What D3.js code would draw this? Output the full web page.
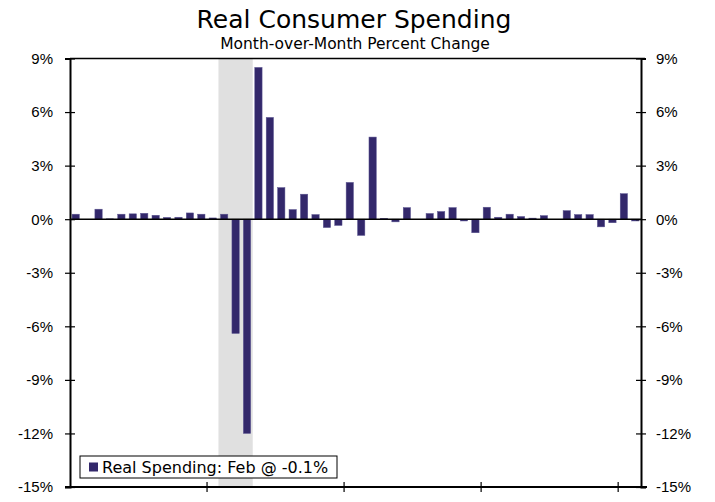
<!DOCTYPE html>
<html>
<head>
<meta charset="utf-8">
<script src="https://cdn.jsdelivr.net/npm/d3@7"></script>
<style>
  body { margin: 0; background: #fff; }
  svg { display: block; font-family: "DejaVu Sans", Verdana, sans-serif; }
  .axis path { stroke: #000; stroke-width: 2; }
  .axis line { stroke: #000; stroke-width: 1.2; }
  .axis text { font-size: 15px; fill: #000; }
</style>
</head>
<body>
<svg id="chart" width="715" height="502"></svg>
<script>
// months shown, Jan 2019 through Feb 2023
var months = [
  "2019-01","2019-02","2019-03","2019-04","2019-05","2019-06","2019-07","2019-08","2019-09","2019-10","2019-11","2019-12",
  "2020-01","2020-02","2020-03","2020-04","2020-05","2020-06","2020-07","2020-08","2020-09","2020-10","2020-11","2020-12",
  "2021-01","2021-02","2021-03","2021-04","2021-05","2021-06","2021-07","2021-08","2021-09","2021-10","2021-11","2021-12",
  "2022-01","2022-02","2022-03","2022-04","2022-05","2022-06","2022-07","2022-08","2022-09","2022-10","2022-11","2022-12",
  "2023-01","2023-02"
];

// real spending, month-over-month % change
var spending = [
  0.28, 0.00, 0.56, 0.02, 0.28, 0.30, 0.33, 0.22, 0.10, 0.11, 0.35, 0.28,
  0.07, 0.28, -6.4, -12.0, 8.5, 5.7, 1.77, 0.54, 1.40, 0.26, -0.47, -0.35,
  2.06, -0.91, 4.6, 0.05, -0.15, 0.65, 0.00, 0.32, 0.43, 0.65, -0.10, -0.76,
  0.67, 0.11, 0.28, 0.15, 0.06, 0.20, 0.00, 0.48, 0.26, 0.26, -0.43, -0.20,
  1.43, -0.10
];

// recession shading, first and last month
var recession = ["2020-02", "2020-04"];

var yTicks = [-15, -12, -9, -6, -3, 0, 3, 6, 9];
var yearStarts = ["2020-01", "2021-01", "2022-01", "2023-01"];

var margin = {top: 58.5, right: 74, bottom: 15, left: 70};
var width = 715, height = 502;

var svg = d3.select("#chart");

var x = d3.scaleBand()
    .domain(months)
    .range([margin.left, width - margin.right])
    .padding(0);

var y = d3.scaleLinear()
    .domain([-15, 9])
    .range([height - margin.bottom, margin.top]);

var barW = x.bandwidth() * 0.64;

// recession band
svg.append("rect")
    .attr("x", x(recession[0]))
    .attr("y", y(9))
    .attr("width", x(recession[1]) + x.bandwidth() - x(recession[0]))
    .attr("height", y(-15) - y(9))
    .attr("fill", "#e0e0e0");

// bars
svg.append("g")
  .selectAll("rect")
  .data(spending)
  .enter()
  .append("rect")
    .attr("x", function(d, i) { return x(months[i]) + (x.bandwidth() - barW) / 2; })
    .attr("y", function(d) { return y(Math.max(0, d)); })
    .attr("width", barW)
    .attr("height", function(d) { return Math.abs(y(d) - y(0)); })
    .attr("fill", "#33286b")
    .attr("stroke", "#5d5792")
    .attr("stroke-width", 0.5);

// zero line
svg.append("line")
    .attr("x1", margin.left)
    .attr("x2", width - margin.right)
    .attr("y1", y(0))
    .attr("y2", y(0))
    .attr("stroke", "#000")
    .attr("stroke-width", 1.5);

// top border
svg.append("line")
    .attr("x1", margin.left)
    .attr("x2", width - margin.right + 4)
    .attr("y1", y(9))
    .attr("y2", y(9))
    .attr("stroke", "#000")
    .attr("stroke-width", 1.5);

var yLeft = svg.append("g")
    .attr("class", "axis")
    .attr("transform", "translate(" + margin.left + ",0)")
    .call(d3.axisLeft(y).tickValues(yTicks).tickSize(5).tickPadding(12)
        .tickFormat(function(d) { return d + "%"; }));
yLeft.selectAll(".tick line").attr("x1", 5);

var yRight = svg.append("g")
    .attr("class", "axis")
    .attr("transform", "translate(" + (width - margin.right) + ",0)")
    .call(d3.axisRight(y).tickValues(yTicks).tickSize(5).tickPadding(10)
        .tickFormat(function(d) { return d + "%"; }));
yRight.selectAll(".tick line").attr("x1", -5);

// bottom axis, ticks at the start of each year
var xAxis = d3.axisBottom(x)
    .tickValues(yearStarts)
    .tickSize(5)
    .tickSizeOuter(0)
    .tickFormat("");
var xg = svg.append("g")
    .attr("class", "axis")
    .attr("transform", "translate(0," + y(-15) + ")")
    .call(xAxis);
xg.selectAll(".tick")
    .attr("transform", function(d) { return "translate(" + x(d) + ",0)"; });
xg.selectAll(".tick line").attr("y1", -5);
xg.select(".domain").attr("d", "M" + (margin.left - 5) + ",0H" + (width - margin.right + 6));

// titles
svg.append("text")
    .attr("x", 354)
    .attr("y", 28)
    .attr("text-anchor", "middle")
    .style("font-size", "25px")
    .text("Real Consumer Spending");

svg.append("text")
    .attr("x", 355)
    .attr("y", 49)
    .attr("text-anchor", "middle")
    .style("font-size", "15.5px")
    .text("Month-over-Month Percent Change");

// legend
var legend = svg.append("g").attr("transform", "translate(80,456)");
legend.append("rect")
    .attr("width", 257)
    .attr("height", 22)
    .attr("fill", "#fff")
    .attr("stroke", "#000")
    .attr("stroke-width", 1);
legend.append("rect")
    .attr("x", 9)
    .attr("y", 6.5)
    .attr("width", 9)
    .attr("height", 9)
    .attr("fill", "#33286b");
legend.append("text")
    .attr("x", 22)
    .attr("y", 16.5)
    .style("font-size", "16px")
    .text("Real Spending: Feb @ -0.1%");
</script>
</body>
</html>
